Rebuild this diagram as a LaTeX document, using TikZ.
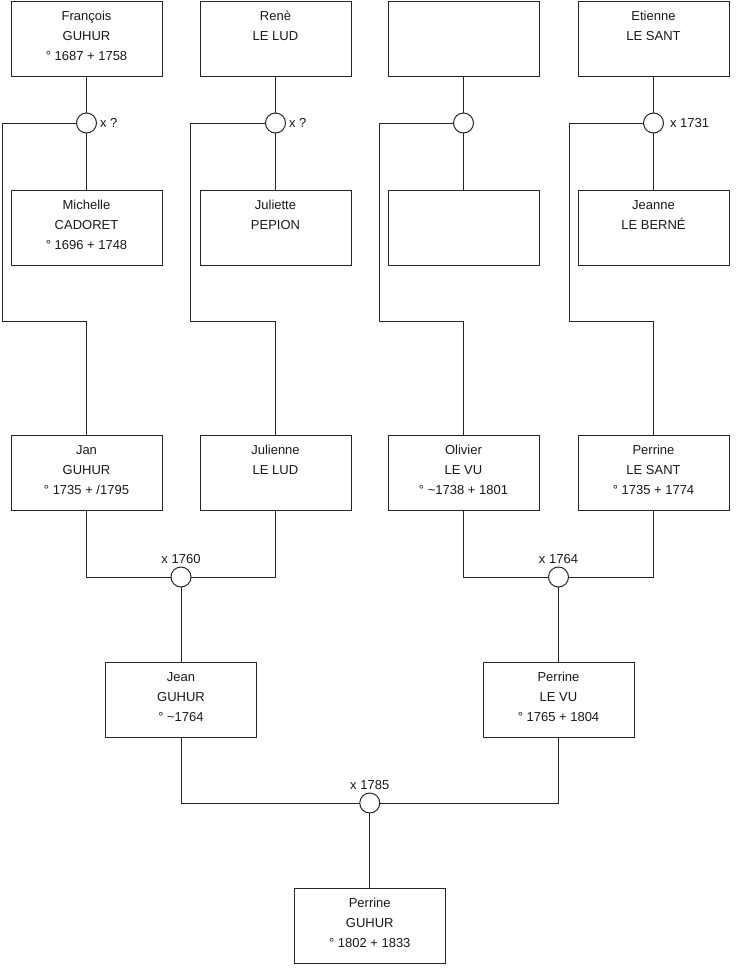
\documentclass[tikz,border=0pt]{standalone}
\usepackage{fontspec}
\setmainfont{Liberation Sans}
\usetikzlibrary{positioning, calc}

\begin{document}
\begin{tikzpicture}[
  x=1pt, y=-1pt,
  person/.style={draw=black!85, line width=1pt, minimum width=151pt, minimum height=75pt,
                 inner sep=0pt, outer sep=0pt, text=black!90,
                 execute at begin node={\begin{minipage}[t][75pt][t]{150pt}\centering
                   \fontsize{13}{20}\selectfont\rule{0pt}{19.5pt}},
                 execute at end node={\end{minipage}}},
  wed/.style={draw=black!85, line width=1pt, circle, minimum size=20pt, inner sep=0pt,
              outer sep=0pt, fill=white},
  lbl/.style={font=\fontsize{13}{15}\selectfont, text=black!90},
  link/.style={draw=black!85, line width=1pt},
]
\useasboundingbox (0,0) rectangle (740,975);

% Top row
\node[person] (francois) at (86.5,38.5) {François\\GUHUR\\° 1687 + 1758};
\node[person, right=38pt of francois] (rene) {Renè\\LE LUD};
\node[person, right=37pt of rene] (unknownA) {};
\node[person, right=39pt of unknownA] (etienne) {Etienne\\LE SANT};

% Spouses
\node[person, below=114pt of francois] (michelle) {Michelle\\CADORET\\° 1696 + 1748};
\node[person, below=114pt of rene] (juliette) {Juliette\\PEPION};
\node[person, below=114pt of unknownA] (unknownB) {};
\node[person, below=114pt of etienne] (jeanne) {Jeanne\\LE BERNÉ};

% Marriages of the top row
\node[wed, label={[lbl]right:x ?}] (wedA) at ($(francois.south)+(0,47)$) {};
\node[wed, label={[lbl]right:x ?}] (wedB) at ($(rene.south)+(0,47)$) {};
\node[wed] (wedC) at ($(unknownA.south)+(0,47)$) {};
\node[wed, label={[lbl, xshift=3pt]right:x 1731}] (wedD) at ($(etienne.south)+(0,47)$) {};

% Children
\node[person, below=170pt of michelle] (jan) {Jan\\GUHUR\\° 1735 + /1795};
\node[person, below=170pt of juliette] (julienne) {Julienne\\LE LUD};
\node[person, below=170pt of unknownB] (olivier) {Olivier\\LE VU\\° \textasciitilde1738 + 1801};
\node[person, below=170pt of jeanne] (perrineS) {Perrine\\LE SANT\\° 1735 + 1774};

% Rails
\coordinate (railA) at (2,321);
\coordinate (railB) at (190,321);
\coordinate (railC) at (379,321);
\coordinate (railD) at (569,321);

\draw[link] (francois) -- (wedA) -- (michelle);
\draw[link] (rene) -- (wedB) -- (juliette);
\draw[link] (unknownA) -- (wedC) -- (unknownB);
\draw[link] (etienne) -- (wedD) -- (jeanne);

\draw[link] (wedA) -| (railA) -| (jan);
\draw[link] (wedB) -| (railB) -| (julienne);
\draw[link] (wedC) -| (railC) -| (olivier);
\draw[link] (wedD) -| (railD) -| (perrineS);

% Second generation
\node[wed, label={[lbl]above:x 1760}] (wedE) at ($(jan.south)!0.5!(julienne.south)+(0,67)$) {};
\node[wed, label={[lbl]above:x 1764}] (wedF) at ($(olivier.south)!0.5!(perrineS.south)+(0,67)$) {};

\node[person, below=75pt of wedE] (jean) {Jean\\GUHUR\\° \textasciitilde1764};
\node[person, below=75pt of wedF] (perrineV) {Perrine\\LE VU\\° 1765 + 1804};

\draw[link] (jan) |- (wedE);
\draw[link] (julienne) |- (wedE);
\draw[link] (wedE) -- (jean);
\draw[link] (olivier) |- (wedF);
\draw[link] (perrineS) |- (wedF);
\draw[link] (wedF) -- (perrineV);

% Last generation
\node[wed, label={[lbl]above:x 1785}] (wedG) at ($(jean.south)!0.5!(perrineV.south)+(0,66)$) {};
\node[person, below=75pt of wedG] (perrineG) {Perrine\\GUHUR\\° 1802 + 1833};

\draw[link] (jean) |- (wedG);
\draw[link] (perrineV) |- (wedG);
\draw[link] (wedG) -- (perrineG);

\end{tikzpicture}
\end{document}
